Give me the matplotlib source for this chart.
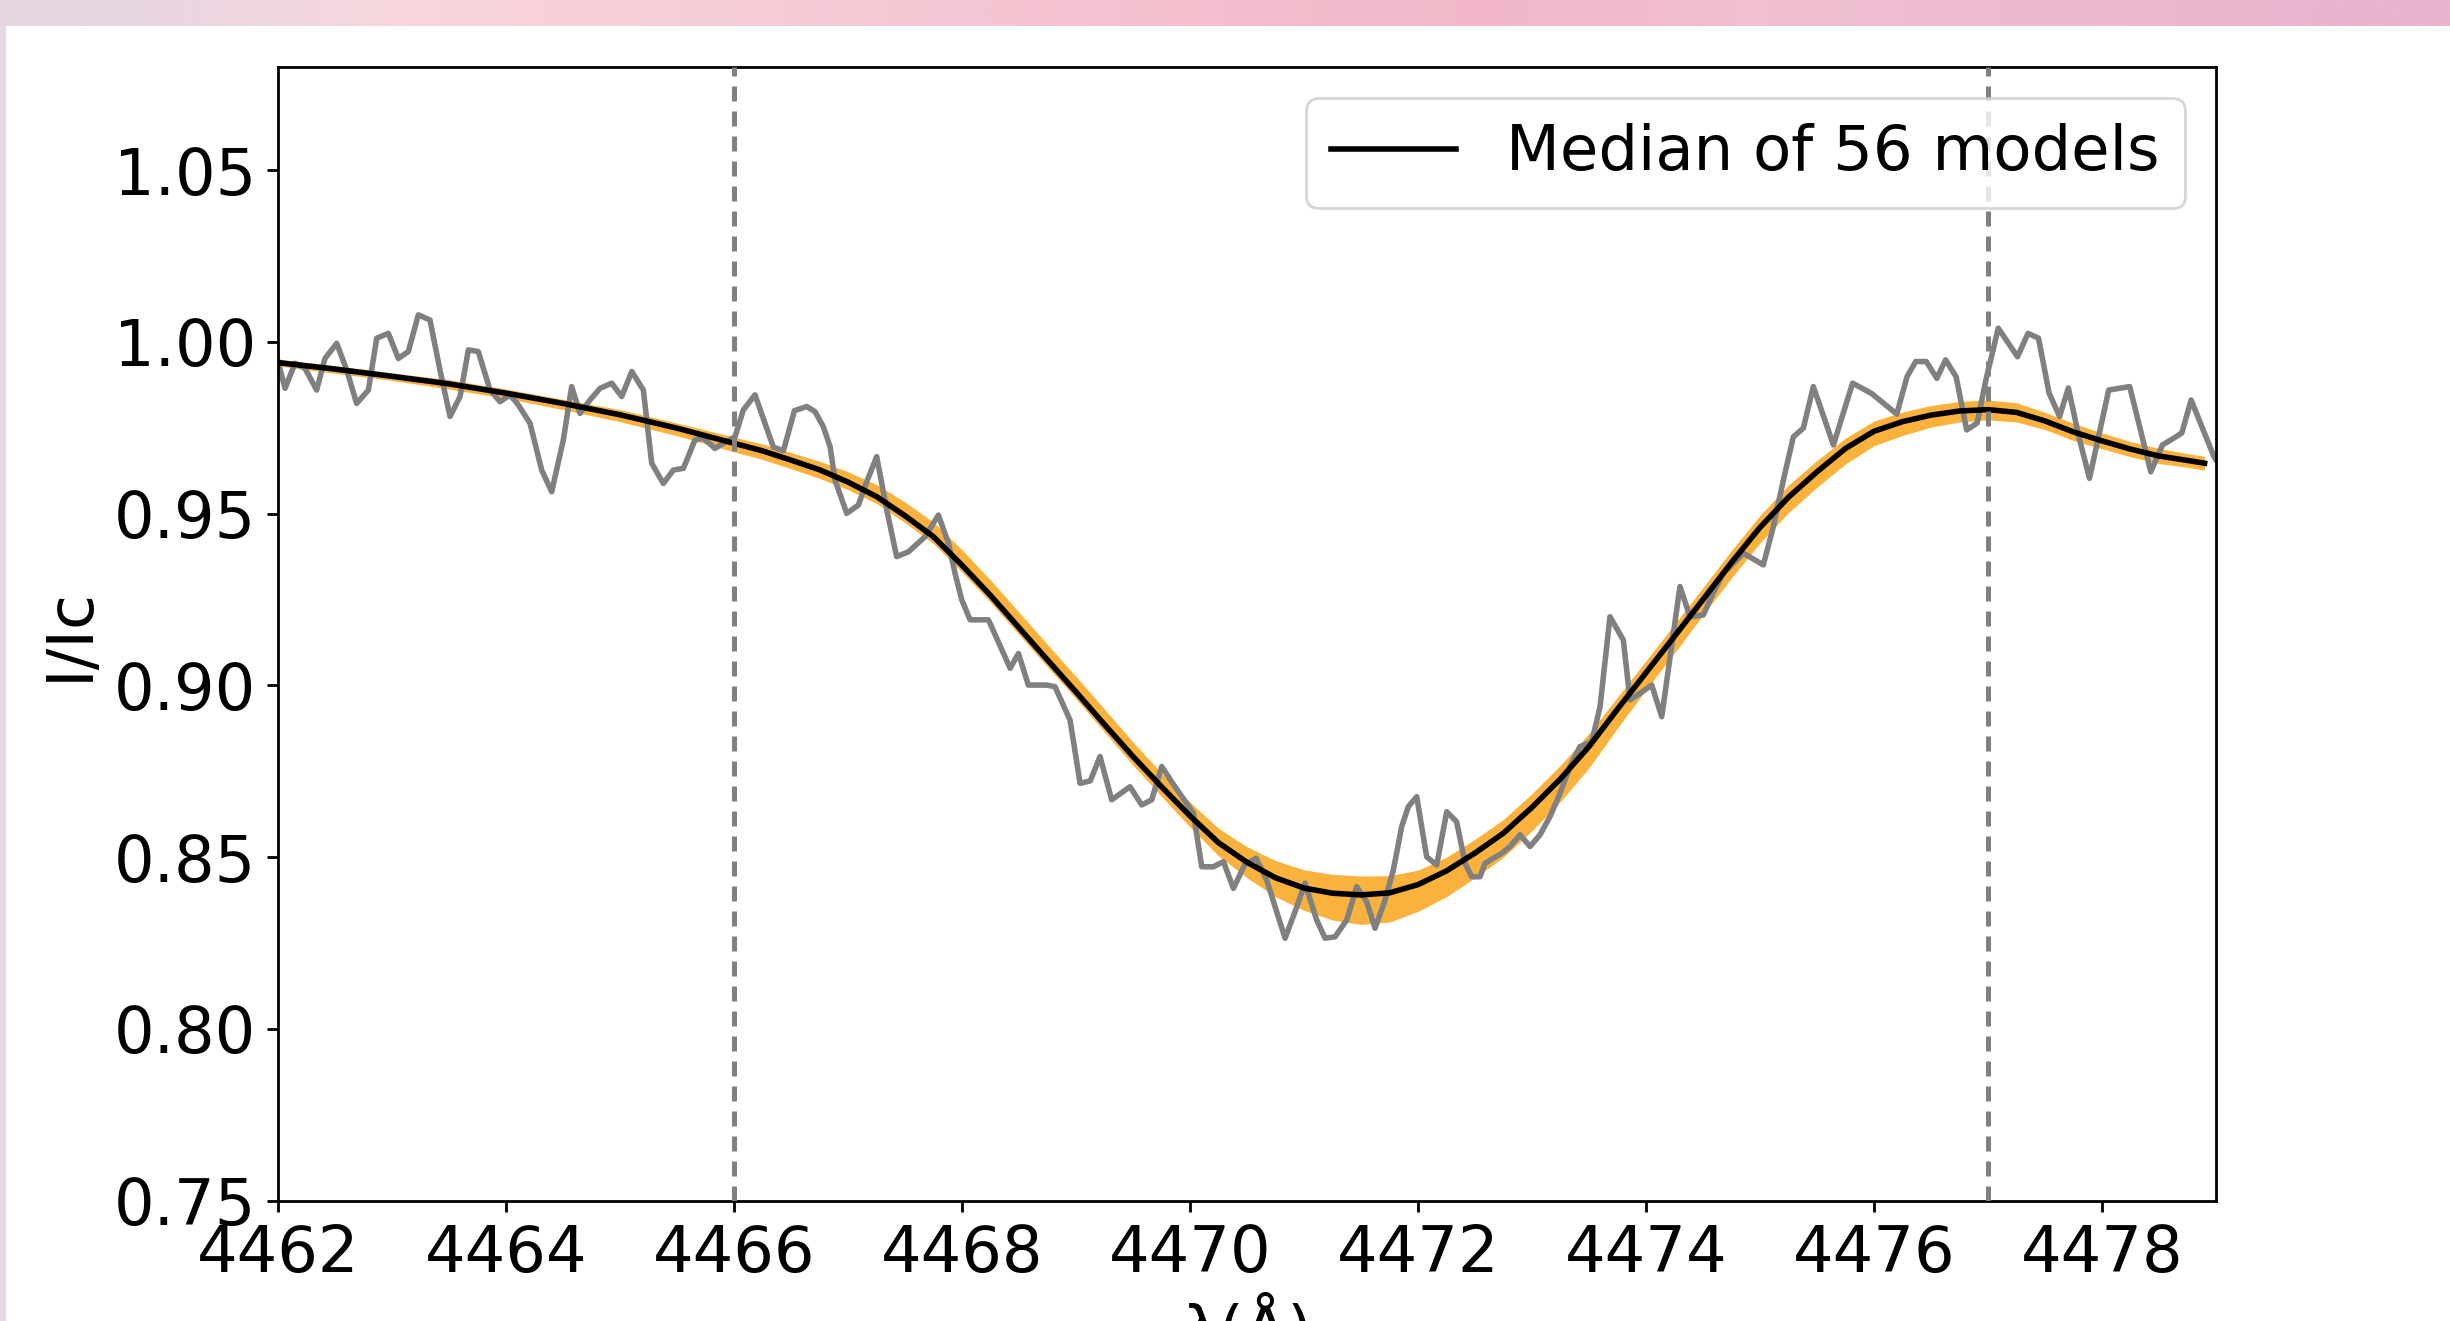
import numpy as np
import matplotlib
matplotlib.use("Agg")
import matplotlib.pyplot as plt
from matplotlib.patches import Rectangle

# ---------------- data ----------------
obs_wave = [
    4462.000, 4462.062, 4462.149, 4462.237, 4462.339, 4462.412, 4462.515, 4462.603,
    4462.690, 4462.793, 4462.866, 4462.968, 4463.056, 4463.143, 4463.231, 4463.333,
    4463.421, 4463.509, 4463.597, 4463.670, 4463.757, 4463.860, 4463.948, 4464.035,
    4464.108, 4464.211, 4464.313, 4464.401, 4464.503, 4464.576, 4464.649, 4464.737,
    4464.825, 4464.927, 4465.015, 4465.103, 4465.205, 4465.278, 4465.380, 4465.468,
    4465.556, 4465.658, 4465.731, 4465.833, 4465.907, 4466.009, 4466.082, 4466.184,
    4466.345, 4466.433, 4466.530, 4466.638, 4466.711, 4466.784, 4466.843, 4466.886,
    4466.989, 4467.091, 4467.164, 4467.252, 4467.340, 4467.427, 4467.530, 4467.676,
    4467.793, 4467.881, 4467.939, 4467.998, 4468.071, 4468.232, 4468.422, 4468.495,
    4468.582, 4468.743, 4468.816, 4468.948, 4469.036, 4469.125, 4469.211, 4469.313,
    4469.474, 4469.576, 4469.664, 4469.752, 4469.854, 4470.030, 4470.103, 4470.205,
    4470.293, 4470.381, 4470.480, 4470.580, 4470.673, 4470.746, 4470.834, 4470.921,
    4471.009, 4471.111, 4471.185, 4471.272, 4471.375, 4471.462, 4471.550, 4471.623,
    4471.711, 4471.784, 4471.857, 4471.915, 4471.989, 4472.076, 4472.164, 4472.252,
    4472.339, 4472.413, 4472.471, 4472.544, 4472.588, 4472.661, 4472.734, 4472.807,
    4472.895, 4472.983, 4473.070, 4473.158, 4473.246, 4473.333, 4473.421, 4473.524,
    4473.597, 4473.684, 4473.801, 4473.860, 4473.948, 4474.050, 4474.138, 4474.298,
    4474.386, 4474.503, 4474.590, 4474.678, 4474.854, 4475.029, 4475.117, 4475.205,
    4475.293, 4475.380, 4475.468, 4475.644, 4475.812, 4475.979, 4476.200, 4476.290,
    4476.366, 4476.459, 4476.551, 4476.628, 4476.720, 4476.813, 4476.905, 4476.982,
    4477.090, 4477.259, 4477.351, 4477.443, 4477.536, 4477.628, 4477.705, 4477.800,
    4477.890, 4478.059, 4478.243, 4478.428, 4478.530, 4478.630, 4478.700, 4478.782,
    4478.982, 4479.070,
]
obs_flux = [
    0.9943, 0.9865, 0.9938, 0.9923, 0.9860, 0.9952, 0.9996, 0.9918,
    0.9821, 0.9860, 1.0011, 1.0025, 0.9952, 0.9972, 1.0079, 1.0064,
    0.9918, 0.9783, 0.9841, 0.9977, 0.9972, 0.9860, 0.9826, 0.9846,
    0.9817, 0.9763, 0.9627, 0.9564, 0.9715, 0.9870, 0.9792, 0.9831,
    0.9865, 0.9880, 0.9841, 0.9914, 0.9860, 0.9647, 0.9588, 0.9627,
    0.9632, 0.9715, 0.9720, 0.9690, 0.9705, 0.9724, 0.9802, 0.9846,
    0.9694, 0.9683, 0.9800, 0.9812, 0.9797, 0.9753, 0.9695, 0.9598,
    0.9501, 0.9525, 0.9593, 0.9666, 0.9511, 0.9375, 0.9389, 0.9433,
    0.9496, 0.9414, 0.9326, 0.9249, 0.9191, 0.9191, 0.9050, 0.9093,
    0.9001, 0.9001, 0.8996, 0.8899, 0.8715, 0.8722, 0.8793, 0.8667,
    0.8705, 0.8652, 0.8667, 0.8764, 0.8712, 0.8628, 0.8472, 0.8472,
    0.8487, 0.8409, 0.8478, 0.8497, 0.8433, 0.8356, 0.8264, 0.8341,
    0.8424, 0.8317, 0.8264, 0.8268, 0.8317, 0.8414, 0.8370, 0.8293,
    0.8375, 0.8463, 0.8589, 0.8647, 0.8676, 0.8501, 0.8477, 0.8632,
    0.8603, 0.8482, 0.8443, 0.8443, 0.8482, 0.8497, 0.8511, 0.8531,
    0.8565, 0.8531, 0.8565, 0.8618, 0.8686, 0.8764, 0.8822, 0.8836,
    0.8938, 0.9200, 0.9132, 0.8958, 0.8977, 0.9001, 0.8909, 0.9288,
    0.9200, 0.9205, 0.9270, 0.9326, 0.9385, 0.9351, 0.9462, 0.9598,
    0.9724, 0.9749, 0.9870, 0.9700, 0.9880, 0.9850, 0.9790, 0.9899,
    0.9943, 0.9943, 0.9894, 0.9948, 0.9899, 0.9744, 0.9764, 0.9890,
    1.0040, 0.9957, 1.0025, 1.0011, 0.9851, 0.9783, 0.9866, 0.9720,
    0.9603, 0.9860, 0.9870, 0.9622, 0.9700, 0.9720, 0.9735, 0.9831,
    0.9666, 0.9620,
]

model_wave = [
    4462.0, 4462.5, 4463.0, 4463.5, 4464.0, 4464.5, 4465.0, 4465.5, 4466.0,
    4466.25, 4466.5, 4466.75, 4467.0, 4467.25, 4467.5, 4467.75, 4468.0,
    4468.25, 4468.5, 4468.75, 4469.0, 4469.25, 4469.5, 4469.75, 4470.0,
    4470.25, 4470.5, 4470.75, 4471.0, 4471.25, 4471.5, 4471.75, 4472.0,
    4472.25, 4472.5, 4472.75, 4473.0, 4473.25, 4473.5, 4473.75, 4474.0,
    4474.25, 4474.5, 4474.75, 4475.0, 4475.25, 4475.5, 4475.75, 4476.0,
    4476.25, 4476.5, 4476.75, 4477.0, 4477.25, 4477.5, 4477.75, 4478.0,
    4478.25, 4478.5, 4478.75, 4478.9,
]
model_median = [
    0.9940, 0.9921, 0.9900, 0.9878, 0.9851, 0.9821, 0.9788, 0.9749, 0.9705,
    0.9683, 0.9656, 0.9628, 0.9592, 0.9550, 0.9494, 0.9433, 0.9350,
    0.9262, 0.9168, 0.9074, 0.8981, 0.8886, 0.8793, 0.8705, 0.8620,
    0.8542, 0.8485, 0.8440, 0.8410, 0.8395, 0.8390, 0.8396, 0.8420,
    0.8460, 0.8512, 0.8570, 0.8645, 0.8728, 0.8822, 0.8931, 0.9037,
    0.9143, 0.9250, 0.9358, 0.9460, 0.9548, 0.9622, 0.9690, 0.9740,
    0.9768, 0.9787, 0.9799, 0.9803, 0.9795, 0.9770, 0.9738, 0.9712,
    0.9688, 0.9668, 0.9655, 0.9647,
]
model_upper = [
    0.9950, 0.9931, 0.9910, 0.9890, 0.9863, 0.9833, 0.9803, 0.9764, 0.9723,
    0.9703, 0.9678, 0.9653, 0.9622, 0.9585, 0.9534, 0.9475, 0.9395,
    0.9307, 0.9213, 0.9119, 0.9026, 0.8931, 0.8835, 0.8745, 0.8660,
    0.8584, 0.8530, 0.8490, 0.8463, 0.8450, 0.8445, 0.8446, 0.8462,
    0.8500, 0.8552, 0.8610, 0.8685, 0.8768, 0.8860, 0.8966, 0.9072,
    0.9178, 0.9285, 0.9393, 0.9495, 0.9583, 0.9655, 0.9720, 0.9770,
    0.9796, 0.9815, 0.9827, 0.9831, 0.9823, 0.9795, 0.9763, 0.9735,
    0.9710, 0.9690, 0.9675, 0.9667,
]
model_lower = [
    0.9930, 0.9909, 0.9888, 0.9863, 0.9836, 0.9803, 0.9768, 0.9727, 0.9680,
    0.9658, 0.9631, 0.9603, 0.9570, 0.9530, 0.9474, 0.9413, 0.9330,
    0.9242, 0.9148, 0.9054, 0.8961, 0.8864, 0.8768, 0.8677, 0.8588,
    0.8504, 0.8440, 0.8385, 0.8345, 0.8317, 0.8304, 0.8311, 0.8342,
    0.8385, 0.8440, 0.8500, 0.8577, 0.8662, 0.8760, 0.8876, 0.8987,
    0.9095, 0.9205, 0.9313, 0.9415, 0.9503, 0.9577, 0.9645, 0.9698,
    0.9728, 0.9752, 0.9767, 0.9773, 0.9767, 0.9745, 0.9713, 0.9689,
    0.9666, 0.9646, 0.9635, 0.9627,
]

region_bounds = [4466.0, 4477.0]
x_ticks = [4462, 4464, 4466, 4468, 4470, 4472, 4474, 4476, 4478]
y_ticks = [0.75, 0.80, 0.85, 0.90, 0.95, 1.00, 1.05]
legend_label = "Median of 56 models"
x_label = "λ(Å)"
y_label = "I/Ic"

# ---------------- figure ----------------
W, H = 2450, 1321
fig = plt.figure(figsize=(W / 100, H / 100), dpi=100)
fig.patch.set_facecolor("white")

# decorative screenshot border (pink band at top, lavender strip at left)
band_h = 26 / H
ax_bg = fig.add_axes([0, 1 - band_h, 1, band_h])
band_cols = np.array([[
    (232, 214, 226), (248, 214, 221), (247, 206, 216), (245, 198, 211),
    (243, 190, 205), (242, 184, 201), (240, 192, 210), (236, 186, 208),
    (233, 180, 205),
]]) / 255.0
ax_bg.imshow(band_cols, aspect="auto", extent=[0, 1, 0, 1], interpolation="bilinear")
ax_bg.set_axis_off()
fig.add_artist(Rectangle((0, 0), 6 / W, 1 - band_h, transform=fig.transFigure,
                         facecolor=(0.89, 0.85, 0.90), edgecolor="none"))

ax = fig.add_axes([278 / W, 1 - 1200.6 / H, (2216 - 278) / W, (1200.6 - 67.2) / H])

ax.fill_between(model_wave, model_lower, model_upper, color="#FAB23C",
                linewidth=0, zorder=1)
ax.plot(obs_wave, obs_flux, color="gray", lw=4.0, zorder=2)
ax.plot(model_wave, model_median, color="black", lw=4.0, zorder=3, label=legend_label)
for b in region_bounds:
    ax.axvline(b, color="gray", ls=(0, (3.0, 2.0)), lw=3.6, zorder=4)

ax.set_xlim(4462, 4479)
ax.set_ylim(0.75, 1.08)
ax.set_xticks(x_ticks)
ax.set_yticks(y_ticks)
ax.set_yticklabels([f"{v:.2f}" for v in y_ticks])
ax.tick_params(length=8, width=2.0, pad=8, labelsize=46, colors="black")
for s in ax.spines.values():
    s.set_linewidth(2.0)

ax.set_xlabel(x_label, fontsize=46, labelpad=9)
ax.set_ylabel(y_label, fontsize=46, labelpad=9)

leg = ax.legend(loc="upper right", fontsize=45, borderaxespad=0.5)
leg.get_frame().set_linewidth(2.0)

fig.savefig("out.png", dpi=100)
